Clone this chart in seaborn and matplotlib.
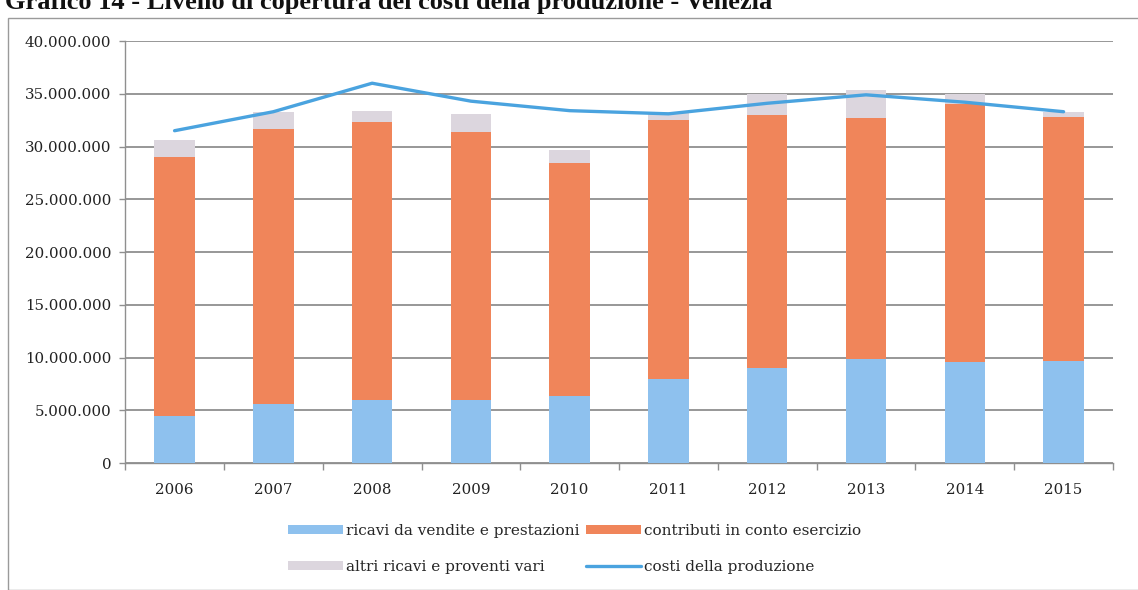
import numpy as np
import pandas as pd
import seaborn as sns
import matplotlib
matplotlib.use("Agg")
import matplotlib.pyplot as plt
from matplotlib.patches import Patch, Rectangle
from matplotlib.lines import Line2D
from matplotlib.ticker import FuncFormatter, FixedLocator

# dati (euro)
anni = ["2006", "2007", "2008", "2009", "2010", "2011", "2012", "2013", "2014", "2015"]
ricavi_vendite = [4.5e6, 5.6e6, 6.0e6, 6.0e6, 6.4e6, 8.0e6, 9.0e6, 9.9e6, 9.6e6, 9.7e6]
contributi = [24.5e6, 26.1e6, 26.3e6, 25.4e6, 22.0e6, 24.5e6, 24.0e6, 22.8e6, 24.4e6, 23.1e6]
altri_ricavi = [1.6e6, 1.6e6, 1.1e6, 1.7e6, 1.3e6, 0.8e6, 2.0e6, 2.7e6, 1.0e6, 0.5e6]
costi_produzione = [31.5e6, 33.3e6, 36.0e6, 34.3e6, 33.4e6, 33.1e6, 34.1e6, 34.9e6, 34.2e6, 33.3e6]

titolo = "Grafico 14 - Livello di copertura dei costi della produzione - Venezia"
etichette = ["ricavi da vendite e prestazioni", "contributi in conto esercizio",
             "altri ricavi e proventi vari", "costi della produzione"]

col_blu = "#8ec1ee"
col_arancio = "#f0855a"
col_grigio = "#dcd6de"
col_linea = "#4aa3df"

df = pd.DataFrame({
    "anno": anni,
    "blu": ricavi_vendite,
    "arancio": contributi,
    "grigio": altri_ricavi,
    "costi": costi_produzione,
})
df["top_arancio"] = df["blu"] + df["arancio"]
df["top_grigio"] = df["top_arancio"] + df["grigio"]
df["pos"] = np.arange(len(df))

sns.set_theme(style="white")
plt.rcParams["font.family"] = ["DejaVu Serif"]

fig = plt.figure(figsize=(11.38, 5.90), dpi=100)
ax = fig.add_axes([0.110, 0.215, 0.868, 0.7155])

# barre impilate: si disegna dal totale verso il basso
for col, c in [("top_grigio", col_grigio), ("top_arancio", col_arancio), ("blu", col_blu)]:
    sns.barplot(data=df, x="anno", y=col, color=c, width=0.41, saturation=1,
                linewidth=0, edgecolor=c, ax=ax, zorder=3)
sns.lineplot(data=df, x="pos", y="costi", color=col_linea, linewidth=2.4,
             ax=ax, zorder=4)

ax.set_xlim(-0.5, len(anni) - 0.5)
ax.set_ylim(0, 40e6)
ax.set_yticks(np.arange(0, 40e6 + 1, 5e6))
ax.yaxis.set_major_formatter(FuncFormatter(lambda v, p: f"{int(v):,}".replace(",", ".")))
ax.grid(axis="y", color="#8f8f8f", linewidth=1.3, zorder=0)
ax.set_axisbelow(True)
ax.set_xlabel("")
ax.set_ylabel("")

for s in ["top", "right"]:
    ax.spines[s].set_visible(False)
for s in ["left", "bottom"]:
    ax.spines[s].set_color("#8f8f8f")
    ax.spines[s].set_linewidth(1.0)

ax.tick_params(axis="y", labelsize=10.8, colors="#222222", left=True, length=4,
               width=1, color="#8f8f8f", pad=6)
ax.tick_params(axis="x", which="major", labelsize=10.8, colors="#222222", bottom=False, pad=8)
ax.xaxis.set_minor_locator(FixedLocator(np.arange(-0.5, len(anni), 1.0)))
ax.tick_params(axis="x", which="minor", bottom=True, length=5, width=1, color="#8f8f8f")

# titolo (tagliato in alto come nell'originale)
fig.text(0.004, 1 - 9 / 590, titolo, fontsize=19, fontweight="bold",
         family="Liberation Serif", va="baseline", ha="left", color="#111111")

# cornice del grafico
fig.patches.append(Rectangle((8 / 1138, 0), 1.0, 1 - 18 / 590, transform=fig.transFigure,
                             fill=False, edgecolor="#9a9a9a", linewidth=1.0, zorder=0))

handles = [
    Patch(facecolor=col_blu, edgecolor="none"),
    Patch(facecolor=col_grigio, edgecolor="none"),
    Patch(facecolor=col_arancio, edgecolor="none"),
    Line2D([0], [0], color=col_linea, linewidth=2.4),
]
labels = [etichette[0], etichette[2], etichette[1], etichette[3]]
fig.legend(handles, labels, loc="center", bbox_to_anchor=(0.505, 0.07), ncol=2,
           frameon=False, fontsize=11, handlelength=3.6, handleheight=0.5,
           handletextpad=0.2, columnspacing=0.4, labelspacing=1.45)

fig.savefig("out.png", dpi=100)
